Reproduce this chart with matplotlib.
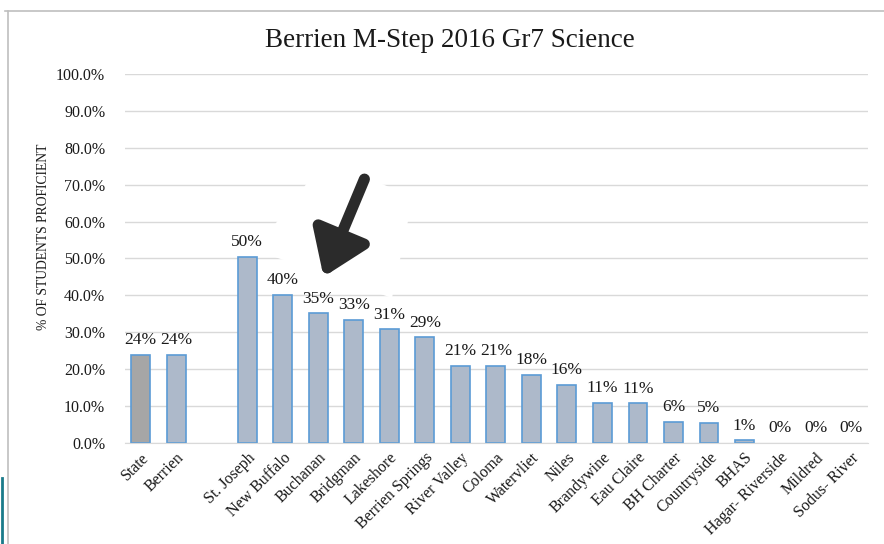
import matplotlib.pyplot as plt
from matplotlib.patches import Polygon
from matplotlib.lines import Line2D
import numpy as np

districts = ['State', 'Berrien', '', 'St. Joseph', 'New Buffalo', 'Buchanan', 'Bridgman',
             'Lakeshore', 'Berrien Springs', 'River Valley', 'Coloma', 'Watervliet', 'Niles',
             'Brandywine', 'Eau Claire', 'BH Charter', 'Countryside', 'BHAS',
             'Hagar- Riverside', 'Mildred', 'Sodus- River']
proficient = [23.9, 23.8, None, 50.4, 40.1, 35.1, 33.3, 30.8, 28.6, 20.9, 20.9, 18.4,
              15.7, 10.9, 10.7, 5.7, 5.4, 0.7, 0.0, 0.0, 0.0]
labels = ['24%', '24%', '', '50%', '40%', '35%', '33%', '31%', '29%', '21%', '21%', '18%',
          '16%', '11%', '11%', '6%', '5%', '1%', '0%', '0%', '0%']

plt.rcParams['font.family'] = 'Liberation Serif'

fig = plt.figure(figsize=(8.84, 5.44), dpi=100)
ax = fig.add_axes([0.141, 0.186, 0.841, 0.678])

x = np.arange(len(districts))
vals = [v if v is not None else 0 for v in proficient]
shown = [i for i, v in enumerate(vals) if v > 0]
colors = ['#a6a6a6' if districts[i] == 'State' else '#adb9ca' for i in shown]
ax.bar(x[shown], [vals[i] for i in shown], width=0.53, color=colors,
       edgecolor='#5b9bd5', linewidth=1.2, zorder=2)

for xi, v, lab in zip(x, vals, labels):
    if lab:
        ax.text(xi, v + 1.8, lab, ha='center', va='bottom', fontsize=12.5,
                color='#1a1a1a', zorder=4)

ax.set_xlim(-0.45, len(districts) - 1 + 0.48)
ax.set_ylim(0, 100)
ax.set_yticks(np.arange(0, 101, 10))
ax.set_yticklabels([f'{t:.1f}%' for t in np.arange(0, 101, 10)], fontsize=11.5,
                   color='#1a1a1a')
ax.set_xticks(x)
ax.set_xticklabels(districts, rotation=45, ha='right', rotation_mode='anchor',
                   fontsize=11.5, color='#1a1a1a')
ax.tick_params(axis='both', length=0, pad=14)
ax.tick_params(axis='x', pad=5)
ax.grid(axis='y', color='#d9d9d9', linewidth=1, zorder=0)
ax.set_axisbelow(True)
for side in ['top', 'right', 'left']:
    ax.spines[side].set_visible(False)
ax.spines['bottom'].set_color('#d9d9d9')

ax.set_ylabel('% OF STUDENTS PROFICIENT', fontsize=9.8, color='#1a1a1a')
ax.yaxis.set_label_coords(-0.100, 0.558)
fig.text(0.509, 0.926, 'Berrien M-Step 2016 Gr7 Science', ha='center', va='center',
         fontsize=19.5, color='#1a1a1a')

# white patch behind the pasted arrow
W, H = 884, 544
pts = [(325, 160), (413, 197), (392, 298), (255, 250)]
patch = Polygon([(px / W, 1 - py / H) for px, py in pts], closed=True,
                transform=fig.transFigure, facecolor='white', edgecolor='none',
                zorder=1, clip_on=False)
ax.add_patch(patch)

# arrow pointing at the bars
ax.annotate('', xy=(5.15, 45), xytext=(6.3, 71.5),
            arrowprops=dict(arrowstyle='-|>,head_length=1.3,head_width=0.9',
                            lw=8, color='#2b2b2b', mutation_scale=20,
                            shrinkA=0, shrinkB=0),
            zorder=5)

# outer chart frame
fig.add_artist(Line2D([5 / W, 1], [1 - 11 / H, 1 - 11 / H], color='#bfbfbf', lw=1.2))
fig.add_artist(Line2D([8 / W, 8 / W], [0, 1 - 11 / H], color='#bfbfbf', lw=1.2))
fig.add_artist(Line2D([1.5 / W, 1.5 / W], [0, 1 - 478 / H], color='#1a7a8a', lw=2))

fig.savefig('out.png', dpi=100)
